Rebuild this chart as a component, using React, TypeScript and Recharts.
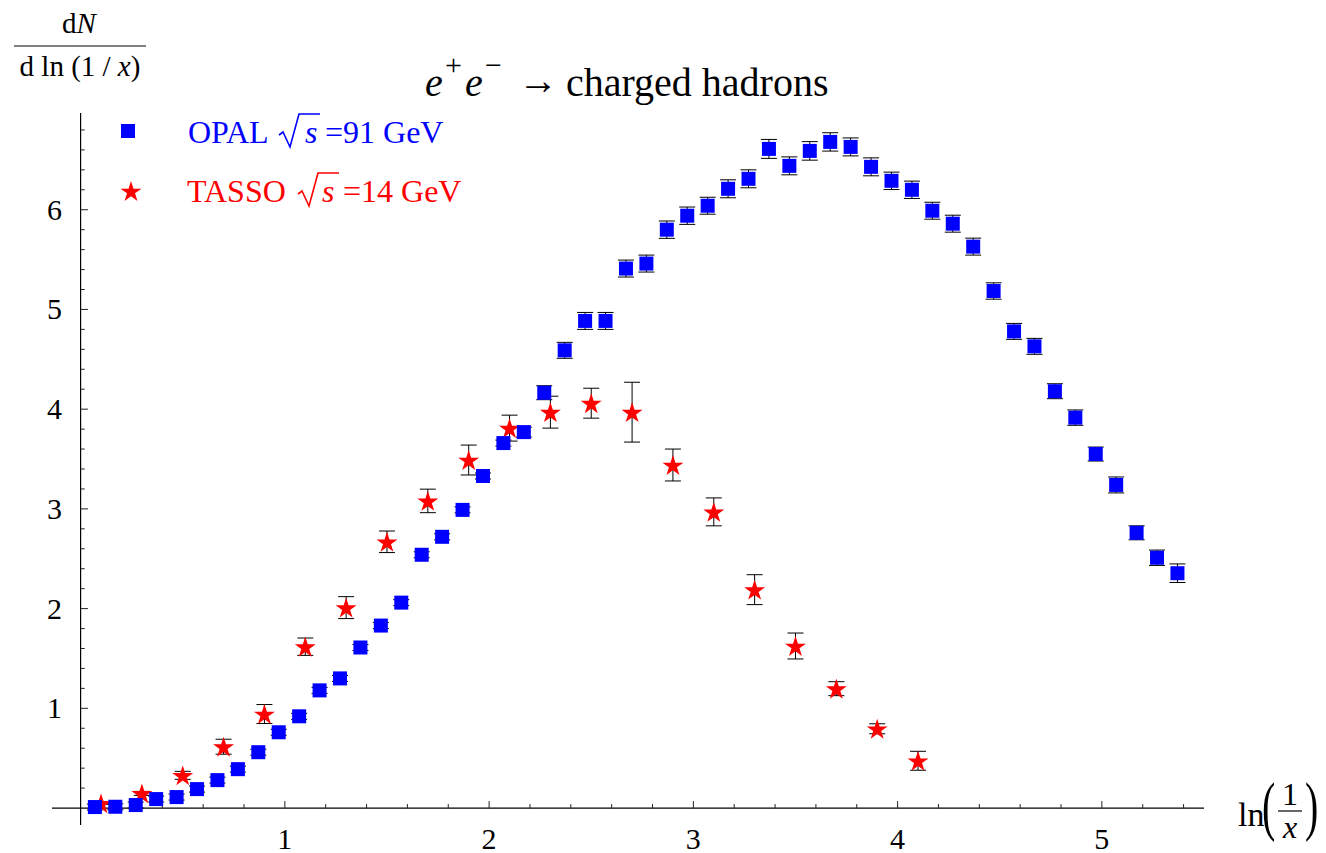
import { ScatterChart, Scatter, XAxis, YAxis, ErrorBar, ReferenceLine } from "recharts";

// OPAL, sqrt(s) = 91 GeV
const OPAL_X = [
  0.07, 0.17, 0.27, 0.37, 0.47, 0.57, 0.67, 0.77, 0.87, 0.97,
  1.07, 1.17, 1.27, 1.37, 1.47, 1.57, 1.67, 1.77, 1.87, 1.97,
  2.07, 2.17, 2.27, 2.37, 2.47, 2.57, 2.67, 2.77, 2.87, 2.97,
  3.07, 3.17, 3.27, 3.37, 3.47, 3.57, 3.67, 3.77, 3.87, 3.97,
  4.07, 4.17, 4.27, 4.37, 4.47, 4.57, 4.67, 4.77, 4.87, 4.97,
  5.07, 5.17, 5.27, 5.37,
];
const OPAL_Y = [
  0.01, 0.013, 0.03, 0.09, 0.11, 0.19, 0.28, 0.39, 0.56, 0.76,
  0.92, 1.18, 1.3, 1.61, 1.83, 2.06, 2.54, 2.72, 2.99, 3.33,
  3.66, 3.77, 4.165, 4.59, 4.885, 4.885, 5.41, 5.46, 5.8, 5.94,
  6.04, 6.21, 6.31, 6.61, 6.44, 6.59, 6.68, 6.63, 6.43, 6.29,
  6.2, 5.99, 5.86, 5.63, 5.185, 4.78, 4.63, 4.18, 3.915, 3.55,
  3.24, 2.76, 2.51, 2.355,
];
const OPAL_ERR = [
  0.03, 0.03, 0.03, 0.03, 0.03, 0.03, 0.03, 0.03, 0.03, 0.03,
  0.03, 0.03, 0.03, 0.03, 0.03, 0.03, 0.03, 0.03, 0.03, 0.03,
  0.03, 0.05, 0.07, 0.08, 0.085, 0.085, 0.085, 0.085, 0.087, 0.087,
  0.085, 0.09, 0.09, 0.095, 0.09, 0.093, 0.092, 0.09, 0.09, 0.087,
  0.087, 0.085, 0.085, 0.085, 0.082, 0.08, 0.08, 0.075, 0.077, 0.07,
  0.08, 0.07, 0.077, 0.093,
];

// TASSO, sqrt(s) = 14 GeV
const TASSO_X = [
  0.1, 0.3, 0.5, 0.7, 0.9, 1.1, 1.3, 1.5, 1.7, 1.9, 2.1,
  2.3, 2.5, 2.7, 2.9, 3.1, 3.3, 3.5, 3.7, 3.9, 4.1,
];
const TASSO_Y = [
  0.047, 0.147, 0.328, 0.615, 0.943, 1.618, 2.01, 2.67, 3.08, 3.49, 3.81,
  3.97, 4.06, 3.97, 3.44, 2.97, 2.19, 1.625, 1.197, 0.795, 0.474,
];
const TASSO_ERR = [
  0.01, 0.02, 0.04, 0.075, 0.095, 0.087, 0.11, 0.108, 0.118, 0.15, 0.13,
  0.16, 0.15, 0.3, 0.16, 0.14, 0.15, 0.13, 0.07, 0.05, 0.095,
];

// axes
const X_MAJOR = [1, 2, 3, 4, 5];
const X_MINOR = [
  0.2, 0.4, 0.6, 0.8, 1.2, 1.4, 1.6, 1.8, 2.2, 2.4, 2.6, 2.8,
  3.2, 3.4, 3.6, 3.8, 4.2, 4.4, 4.6, 4.8, 5.2, 5.4,
];
const Y_MAJOR = [1, 2, 3, 4, 5, 6];
const Y_MINOR = [
  0.2, 0.4, 0.6, 0.8, 1.2, 1.4, 1.6, 1.8, 2.2, 2.4, 2.6, 2.8,
  3.2, 3.4, 3.6, 3.8, 4.2, 4.4, 4.6, 4.8, 5.2, 5.4, 5.6, 5.8,
  6.2, 6.4, 6.6, 6.8,
];

const SERIF = "'Liberation Serif', 'Times New Roman', serif";
const BLUE = "#0000ff";
const RED = "#ff0000";

const opalData = OPAL_X.map((x, i) => ({ x, y: OPAL_Y[i], err: OPAL_ERR[i] }));
const tassoData = TASSO_X.map((x, i) => ({ x, y: TASSO_Y[i], err: TASSO_ERR[i] }));

const Square = (p: any) => (
  <rect x={p.cx - 7} y={p.cy - 7} width={14} height={14} fill={BLUE} />
);

function starPath(cx: number, cy: number, R: number) {
  const r = R * 0.382;
  const dy = R * 0.095; // center the bounding box on the point
  let d = "";
  for (let i = 0; i < 10; i++) {
    const a = ((-90 + 36 * i) * Math.PI) / 180;
    const rr = i % 2 === 0 ? R : r;
    d += (i === 0 ? "M" : "L") + (cx + rr * Math.cos(a)).toFixed(2) + "," + (cy + dy + rr * Math.sin(a)).toFixed(2);
  }
  return d + "Z";
}

const Star = (p: any) => <path d={starPath(p.cx, p.cy, 11)} fill={RED} />;
const Nothing = () => <g />;

const XTick = ({ x, y, payload }: any) => (
  <text x={x} y={y + 24} textAnchor="middle" fontFamily={SERIF} fontSize={30} fill="#000">
    {payload.value}
  </text>
);

const YTick = ({ x, y, payload }: any) => (
  <text x={x + 10} y={y + 10} textAnchor="end" fontFamily={SERIF} fontSize={30} fill="#000">
    {payload.value}
  </text>
);

const TICK = "#222";

export default function App() {
  return (
    <div style={{ position: "relative", width: 1310, height: 845 }}>
      <ScatterChart
        width={1310}
        height={845}
        margin={{ top: 105, right: 114, bottom: 0, left: 0 }}
        style={{ overflow: "visible" }}
      >
        <XAxis
          type="number"
          dataKey="x"
          domain={[-0.14, 5.5]}
          ticks={X_MAJOR}
          allowDataOverflow
          axisLine={false}
          tickLine={false}
          tickSize={0}
          tickMargin={0}
          height={28}
          tick={XTick}
        />
        <YAxis
          type="number"
          dataKey="y"
          domain={[-0.17, 6.97]}
          ticks={Y_MAJOR}
          allowDataOverflow
          axisLine={false}
          tickLine={false}
          tickSize={0}
          tickMargin={0}
          width={44}
          tick={YTick}
        />

        <ReferenceLine x={0} stroke="#000" strokeWidth={1.2} />
        <ReferenceLine y={0} stroke="#000" strokeWidth={1.2} />
        {X_MAJOR.map((t) => (
          <ReferenceLine key={"xM" + t} segment={[{ x: t, y: 0 }, { x: t, y: 0.07 }]} stroke={TICK} />
        ))}
        {X_MINOR.map((t) => (
          <ReferenceLine key={"xm" + t} segment={[{ x: t, y: 0 }, { x: t, y: 0.04 }]} stroke={TICK} />
        ))}
        {Y_MAJOR.map((t) => (
          <ReferenceLine key={"yM" + t} segment={[{ x: 0, y: t }, { x: 0.036, y: t }]} stroke={TICK} />
        ))}
        {Y_MINOR.map((t) => (
          <ReferenceLine key={"ym" + t} segment={[{ x: 0, y: t }, { x: 0.02, y: t }]} stroke={TICK} />
        ))}

        <Scatter data={tassoData} shape={Star} isAnimationActive={false} />
        <Scatter data={tassoData} shape={Nothing} isAnimationActive={false}>
          <ErrorBar dataKey="err" direction="y" width={8} stroke="#000" strokeWidth={1} />
        </Scatter>
        <Scatter data={opalData} shape={Square} isAnimationActive={false}>
          <ErrorBar dataKey="err" direction="y" width={8} stroke="#000" strokeWidth={1} />
        </Scatter>
      </ScatterChart>

      <svg
        width={1310}
        height={845}
        style={{ position: "absolute", left: 0, top: 0, pointerEvents: "none", overflow: "visible" }}
        fontFamily={SERIF}
      >
        {/* y label */}
        <text x={71} y={25} fontSize={29} textAnchor="middle">
          d<tspan fontStyle="italic">N</tspan>
        </text>
        <line x1={6} x2={138} y1={38} y2={38} stroke="#000" strokeWidth={1.2} />
        <text x={72} y={68} fontSize={29} textAnchor="middle" xmlSpace="preserve">
          d ln (1 / <tspan fontStyle="italic">x</tspan>)
        </text>

        {/* title */}
        <g fontSize={40}>
          <text x={417} y={88} fontStyle="italic">e</text>
          <text x={437} y={67} fontSize={30}>+</text>
          <text x={457} y={88} fontStyle="italic">e</text>
          <text x={477} y={67} fontSize={30}>−</text>
          <text x={510} y={86} fontSize={40}>→</text>
          <text x={558} y={88}>charged hadrons</text>
        </g>

        {/* legend */}
        <rect x={113} y={116} width={14} height={14} fill={BLUE} />
        <g fill={BLUE} fontSize={32}>
          <text x={180} y={135}>OPAL</text>
          <path d="M271,127 L275,124 L282,139 L291,106 L312,106" fill="none" stroke={BLUE} strokeWidth={1.6} />
          <text x={297} y={135} fontStyle="italic">s</text>
          <text x={317} y={135}>=91 GeV</text>
        </g>
        <path d={starPath(123, 183, 11)} fill={RED} />
        <g fill={RED} fontSize={32}>
          <text x={179} y={194}>TASSO</text>
          <path d="M290,186 L294,183 L301,198 L310,165 L331,165" fill="none" stroke={RED} strokeWidth={1.6} />
          <text x={314} y={194} fontStyle="italic">s</text>
          <text x={335} y={194}>=14 GeV</text>
        </g>

        {/* x label */}
        <text x={1230} y={818} fontSize={34}>ln</text>
        <text transform="translate(1254,820) scale(1,1.63)" fontSize={40}>(</text>
        <text x={1282} y={797} fontSize={32} textAnchor="middle">1</text>
        <line x1={1270} x2={1294} y1={803} y2={803} stroke="#000" strokeWidth={1.2} />
        <text x={1282} y={830} fontSize={32} textAnchor="middle" fontStyle="italic">x</text>
        <text transform="translate(1297,820) scale(1,1.63)" fontSize={40}>)</text>
      </svg>
    </div>
  );
}
